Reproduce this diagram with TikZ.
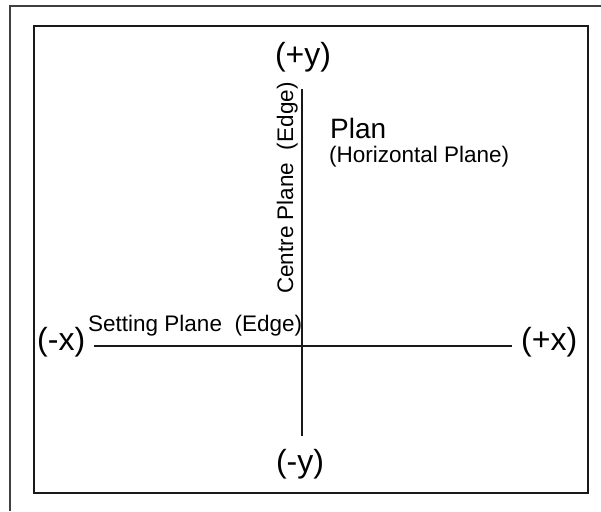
\documentclass[tikz,border=0pt]{standalone}
\usepackage{fontspec}
\setmainfont{Liberation Sans}
\begin{document}
\begin{tikzpicture}[x=1pt,y=-1pt,
  axislbl/.style={inner sep=0pt, font=\fontsize{32}{32}\selectfont},
  smalllbl/.style={inner sep=0pt, font=\fontsize{22.5}{22.5}\selectfont},
  axisline/.style={line width=1.6pt, black!90},
  frame/.style={line width=2pt, black!90}]
\useasboundingbox (0,0) rectangle (601,511);
% outer frame (partially visible)
\draw[line width=2pt, black!75] (10,511) -- (10,5.7) -- (601,5.7);
% inner frame
\draw[frame] (33.5,26) rectangle (587.5,493);
% axes
\coordinate (ytop) at (301.7,89);
\coordinate (ybot) at (301.7,436);
\coordinate (xleft) at (94,345.7);
\coordinate (xright) at (512,345.7);
\draw[axisline] (ytop) -- (ybot);
\draw[axisline] (xleft) -- (xright);
% labels
\node[axislbl, anchor=base] (py) at (303,65) {(+y)};
\node[axislbl, anchor=base] (my) at (300,472) {(-y)};
\node[axislbl, anchor=base west] (mx) at (37,350) {(-x)};
\node[axislbl, anchor=base west] (px) at (521,350) {(+x)};
\node[inner sep=0pt, anchor=base west, font=\fontsize{28}{28}\selectfont] (plan) at (330,138) {Plan};
\node[smalllbl, anchor=base west] (hp) at (329,162) {(Horizontal Plane)};
\node[smalllbl, anchor=base west] (sp) at (88,331) {Setting Plane\ \ (Edge)};
\node[smalllbl, anchor=base west, rotate=90] (cp) at (293,294) {Centre Plane\ \ (Edge)};
\end{tikzpicture}
\end{document}
